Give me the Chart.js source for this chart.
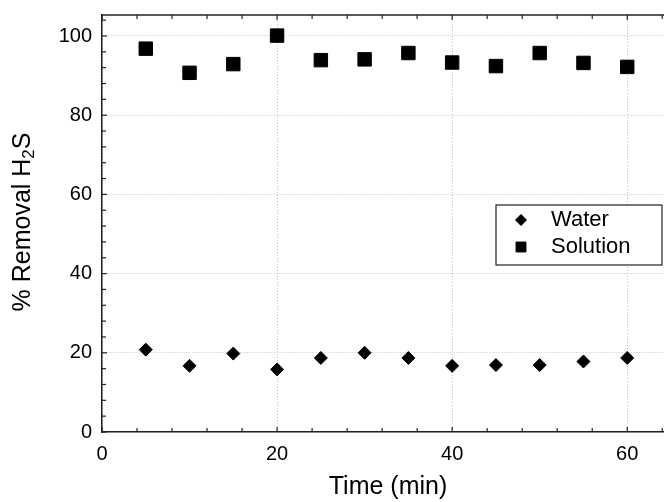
<!DOCTYPE html>
<html>
<head>
<meta charset="utf-8">
<script src="https://cdn.jsdelivr.net/npm/chart.js@4.4.1/dist/chart.umd.min.js"></script>
<style>
  html, body { margin: 0; background: #fff; overflow: hidden; }
  canvas { display: block; }
</style>
</head>
<body>
<canvas id="chart1" width="664" height="502"></canvas>
<script>
// time points (min)
const times = [5, 10, 15, 20, 25, 30, 35, 40, 45, 50, 55, 60];
// % removal of H2S
const water = [20.8, 16.7, 19.8, 15.8, 18.7, 20.0, 18.7, 16.7, 16.9, 16.9, 17.8, 18.7];
const solution = [96.8, 90.7, 92.9, 100.1, 93.9, 94.1, 95.7, 93.3, 92.4, 95.7, 93.2, 92.2];
const seriesNames = ["Water", "Solution"];
const xTitle = "Time (min)";
const yTitle = ["% Removal H", "2", "S"];

const FONT = "'Liberation Sans', Arial, sans-serif";

function points(ys) {
  return times.map((t, i) => ({ x: t, y: ys[i] }));
}

// inward ticks, top frame line, axis titles and the boxed legend
const decor = {
  id: "decor",
  afterDraw(chart) {
    const ctx = chart.ctx;
    const a = chart.chartArea;
    const xs = chart.scales.x, ys = chart.scales.y;
    ctx.save();
    ctx.strokeStyle = "#222";
    ctx.lineWidth = 1.5;
    ctx.beginPath();
    ctx.moveTo(a.left, a.top);
    ctx.lineTo(a.right, a.top);
    ctx.stroke();

    ctx.lineWidth = 1.2;
    for (let v = 0; v <= xs.max; v += 4) {
      const px = xs.getPixelForValue(v);
      const len = v % 20 == 0 ? 5 : 4;
      ctx.beginPath();
      ctx.moveTo(px, a.bottom); ctx.lineTo(px, a.bottom - len);
      ctx.moveTo(px, a.top); ctx.lineTo(px, a.top + len);
      ctx.stroke();
    }
    for (let v = 0; v <= ys.max; v += 4) {
      const py = ys.getPixelForValue(v);
      const len = v % 20 == 0 ? 5 : 4;
      ctx.beginPath();
      ctx.moveTo(a.left, py); ctx.lineTo(a.left + len, py);
      ctx.stroke();
    }

    // axis titles
    ctx.fillStyle = "#000";
    ctx.font = "25px " + FONT;
    ctx.textAlign = "center";
    ctx.textBaseline = "middle";
    ctx.fillText(xTitle, 388, 487);

    ctx.save();
    ctx.translate(23, 222);
    ctx.rotate(-Math.PI / 2);
    ctx.textAlign = "left";
    ctx.font = "25px " + FONT;
    const w1 = ctx.measureText(yTitle[0]).width;
    const w3 = ctx.measureText(yTitle[2]).width;
    ctx.font = "17px " + FONT;
    const w2 = ctx.measureText(yTitle[1]).width;
    let x0 = -(w1 + w2 + w3) / 2;
    ctx.font = "25px " + FONT;
    ctx.fillText(yTitle[0], x0, 0);
    ctx.font = "17px " + FONT;
    ctx.fillText(yTitle[1], x0 + w1, 6);
    ctx.font = "25px " + FONT;
    ctx.fillText(yTitle[2], x0 + w1 + w2, 0);
    ctx.restore();

    // legend
    const bx = 496, by = 205, bw = 166, bh = 60;
    ctx.fillStyle = "#fff";
    ctx.fillRect(bx, by, bw, bh);
    ctx.strokeStyle = "#222";
    ctx.lineWidth = 1.2;
    ctx.strokeRect(bx, by, bw, bh);
    const rows = [220, 247];
    chart.data.datasets.forEach((ds, i) => {
      ctx.fillStyle = "#000";
      ctx.strokeStyle = "#000";
      ctx.lineWidth = 1;
      Chart.helpers.drawPoint(ctx, {
        pointStyle: ds.pointStyle,
        radius: ds.pointStyle == "rect" ? 7 : 5.5,
        borderWidth: 1
      }, 521, rows[i]);
      ctx.fillStyle = "#000";
      ctx.font = "22px " + FONT;
      ctx.textAlign = "left";
      ctx.textBaseline = "middle";
      ctx.fillText(ds.label, 551, rows[i]);
    });
    ctx.restore();
  }
};

new Chart(document.getElementById("chart1"), {
  type: "scatter",
  data: {
    datasets: [
      {
        label: seriesNames[0],
        data: points(water),
        pointStyle: "rectRot",
        pointRadius: 6.5,
        backgroundColor: "#000",
        borderColor: "#000",
        borderWidth: 1
      },
      {
        label: seriesNames[1],
        data: points(solution),
        pointStyle: "rect",
        pointRadius: 9.5,
        backgroundColor: "#000",
        borderColor: "#000",
        borderWidth: 1
      }
    ]
  },
  options: {
    responsive: false,
    animation: false,
    layout: { autoPadding: false, padding: { top: 15, right: 0, left: 0, bottom: 0 } },
    plugins: {
      legend: { display: false },
      tooltip: { enabled: false }
    },
    scales: {
      x: {
        type: "linear",
        min: 0,
        max: 64.2,
        afterFit: (s) => { s.height = 70; s.paddingLeft = 0; s.paddingRight = 0; },
        ticks: {
          stepSize: 20,
          includeBounds: false,
          padding: 10,
          color: "#000",
          font: { family: FONT, size: 20 }
        },
        grid: { color: "#bdbdbd", lineWidth: 1, drawTicks: false },
        border: { color: "#222", width: 1.5, dash: [1, 2] }
      },
      y: {
        min: 0,
        max: 105.3,
        afterFit: (s) => { s.width = 102; s.paddingTop = 0; s.paddingBottom = 0; },
        ticks: {
          stepSize: 20,
          includeBounds: false,
          padding: 10,
          color: "#000",
          font: { family: FONT, size: 20 }
        },
        grid: { color: "#bdbdbd", lineWidth: 1, drawTicks: false },
        border: { color: "#222", width: 1.5, dash: [1, 2] }
      }
    }
  },
  plugins: [decor]
});
</script>
</body>
</html>
